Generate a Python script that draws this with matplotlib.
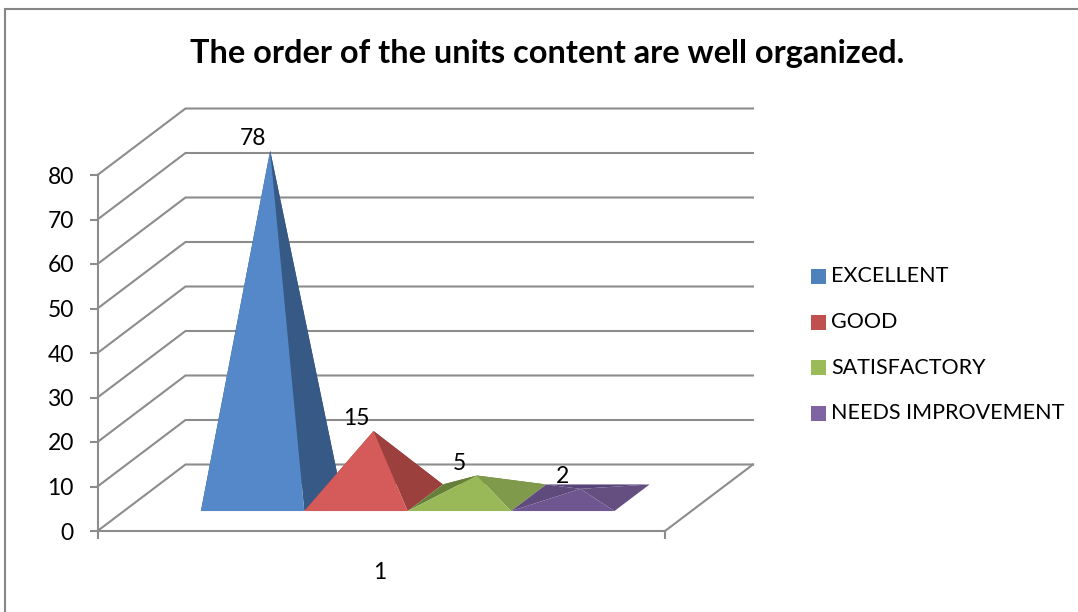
import matplotlib
matplotlib.use("Agg")
import matplotlib.pyplot as plt
from matplotlib.patches import Rectangle, Polygon

plt.rcParams['font.family'] = ['Lato', 'DejaVu Sans']

title = "The order of the units content are well organized."
categories = ["EXCELLENT", "GOOD", "SATISFACTORY", "NEEDS IMPROVEMENT"]
values = [78, 15, 5, 2]
y_ticks = [0, 10, 20, 30, 40, 50, 60, 70, 80]
x_label = "1"

# legend swatch, front, right, left and back face colours
swatch_colors = ["#4f81bd", "#c0504d", "#9bbb59", "#8064a2"]
front_colors = ["#5588c9", "#d45b5a", "#99b958", "#6f5690"]
right_colors = ["#365a85", "#9c403e", "#7e9a4a", "#644f80"]
left_colors = ["#2f4f75", "#8a3836", "#667f3a", "#5f4b7c"]
back_colors = ["#2f4f75", "#8a3836", "#667f3a", "#574379"]

W, H = 1078, 612
grid_col = "#8c8c8c"
lw = 1.5

fig = plt.figure(figsize=(W / 100, H / 100), dpi=100)
fig.patch.set_facecolor("white")

# front plane of the fake 3d box, in pixels
x0, x1, y0, y1 = 97.5, 665, 531, 175
ax = fig.add_axes([x0 / W, 1 - y0 / H, (x1 - x0) / W, (y0 - y1) / H])
ax.patch.set_alpha(0)

gap = 0.745
xmax = 2 * gap + len(values)
ax.set_xlim(0, xmax)
ax.set_ylim(0, 80)

# depth shift of the whole box, in data units
dx = 88 / 103.4
dy = 66.5 / 4.45
d_front, d_back = 0.3, 0.7


def proj(x, d, v):
    return x + d * dx, v + d * dy


for s in ["top", "right"]:
    ax.spines[s].set_visible(False)
for s in ["left", "bottom"]:
    ax.spines[s].set_color(grid_col)
    ax.spines[s].set_linewidth(lw)

ax.set_yticks(y_ticks)
ax.set_xticks([0, xmax])
ax.set_xticklabels(["", ""])
ax.tick_params(axis="y", colors=grid_col, length=6, width=lw, labelcolor="black",
               labelsize=16.5, pad=11)
ax.tick_params(axis="x", colors=grid_col, length=5.5, width=lw)

# walls
for v in y_ticks:
    bx, by = proj(0, 1, v)
    ex, ey = proj(xmax, 1, v)
    ax.plot([0, bx, ex], [v, by, ey], color=grid_col, lw=lw, clip_on=False, zorder=1)
bx, by = proj(xmax, 1, 0)
ax.plot([xmax, bx], [0, by], color=grid_col, lw=lw, clip_on=False, zorder=1)

# pyramids, left to right so the next one sits over the last
for i, v in enumerate(values):
    a = gap + i
    b = a + 1
    fl = proj(a, d_front, 0)
    fr = proj(b, d_front, 0)
    bl = proj(a, d_back, 0)
    br = proj(b, d_back, 0)
    top = proj(a + 0.5, 0.5, v)
    z = 2 + i
    for pts, col in [((bl, br, top), back_colors[i]),
                     ((fl, bl, top), left_colors[i]),
                     ((fr, br, top), right_colors[i]),
                     ((fl, fr, top), front_colors[i])]:
        ax.add_patch(Polygon(pts, closed=True, facecolor=col, edgecolor="none",
                             clip_on=False, zorder=z))
    lx, ly = proj(a + 0.5, d_front, v)
    ax.annotate(str(v), (lx, ly), xytext=(0, 10.8), textcoords="offset points",
                ha="center", va="bottom", fontsize=16.5, color="black",
                annotation_clip=False, zorder=10)

ax.annotate(x_label, (xmax / 2, 0), xytext=(-1, -22), textcoords="offset points",
            ha="center", va="top", fontsize=16.5, color="black", annotation_clip=False)

fig.text(547 / W, 1 - 53 / H, title, ha="center", va="center",
         fontsize=23.4, fontweight="bold", color="black")

# legend
for i, name in enumerate(categories):
    top = 269 + i * 45.5
    fig.add_artist(Rectangle((811 / W, 1 - (top + 15) / H), 15 / W, 15 / H,
                             transform=fig.transFigure, facecolor=swatch_colors[i],
                             edgecolor="none"))
    fig.text(831 / W, 1 - (top + 7.5) / H, name, ha="left", va="center",
             fontsize=15.5, color="black")

# chart frame
fig.add_artist(Rectangle((5 / W, 1 - 640 / H), 1200 / W, 631 / H,
                         transform=fig.transFigure, facecolor="none",
                         edgecolor="#868686", lw=1.5))

fig.savefig("out.png", dpi=100)
